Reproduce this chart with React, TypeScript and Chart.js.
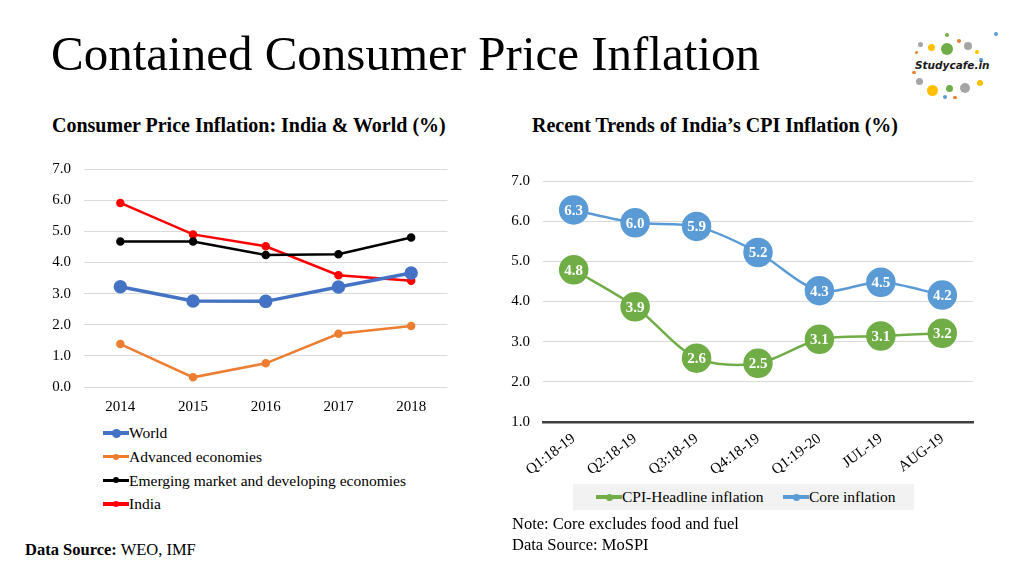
import React, { useEffect, useRef } from "react";
import { Chart, registerables } from "chart.js";

Chart.register(...registerables);

const years = ["2014", "2015", "2016", "2017", "2018"];
const worldValues = [3.22, 2.76, 2.75, 3.21, 3.66];
const advancedValues = [1.38, 0.31, 0.76, 1.71, 1.96];
const emergingValues = [4.67, 4.67, 4.24, 4.26, 4.8];
const indiaValues = [5.91, 4.9, 4.52, 3.59, 3.41];
const leftTicks = [0, 1, 2, 3, 4, 5, 6, 7];

const quarters = ["Q1:18-19", "Q2:18-19", "Q3:18-19", "Q4:18-19", "Q1:19-20", "JUL-19", "AUG-19"];
const headlineValues = [4.79, 3.87, 2.59, 2.46, 3.06, 3.14, 3.21];
const coreValues = [6.28, 5.96, 5.87, 5.22, 4.27, 4.48, 4.16];
const rightTicks = [1, 2, 3, 4, 5, 6, 7];

const SERIF = "'Liberation Serif', 'Times New Roman', serif";

const pointLabelPlugin = {
  id: "pointLabels",
  afterDatasetsDraw(chart: any) {
    const ctx = chart.ctx;
    ctx.save();
    ctx.fillStyle = "#ffffff";
    ctx.font = `bold 15px ${SERIF}`;
    ctx.textAlign = "center";
    ctx.textBaseline = "middle";
    chart.data.datasets.forEach((ds: any, i: number) => {
      const meta = chart.getDatasetMeta(i);
      meta.data.forEach((pt: any, j: number) => {
        ctx.fillText(Number(ds.data[j]).toFixed(1), pt.x, pt.y + 1);
      });
    });
    ctx.restore();
  },
};

function LeftChart() {
  const ref = useRef<HTMLCanvasElement>(null);
  useEffect(() => {
    const chart = new Chart(ref.current!, {
      type: "line",
      data: {
        labels: years,
        datasets: [
          { label: "World", data: worldValues, borderColor: "#4472C4", backgroundColor: "#4472C4", borderWidth: 3.5, pointRadius: 5, pointHoverRadius: 5 },
          { label: "Advanced economies", data: advancedValues, borderColor: "#ED7D31", backgroundColor: "#ED7D31", borderWidth: 2.5, pointRadius: 3, pointHoverRadius: 3 },
          { label: "Emerging market and developing economies", data: emergingValues, borderColor: "#000000", backgroundColor: "#000000", borderWidth: 2.5, pointRadius: 3, pointHoverRadius: 3 },
          { label: "India", data: indiaValues, borderColor: "#FF0000", backgroundColor: "#FF0000", borderWidth: 2.5, pointRadius: 3, pointHoverRadius: 3 },
        ],
      },
      options: {
        animation: false,
        responsive: false,
        layout: { padding: { top: 10, left: 0, right: 0, bottom: 0 } },
        plugins: { legend: { display: false }, tooltip: { enabled: false } },
        scales: {
          x: {
            offset: true,
            grid: { display: false, drawTicks: false },
            border: { display: false },
            ticks: { color: "#000", font: { family: SERIF, size: 15 }, padding: 11 },
            afterFit: (s: any) => { s.height = 30; },
          },
          y: {
            min: 0,
            max: 7,
            afterBuildTicks: (s: any) => { s.ticks = leftTicks.map((v) => ({ value: v })); },
            grid: { color: "#d9d9d9", drawTicks: false, lineWidth: 1 },
            border: { display: false },
            ticks: { color: "#000", font: { family: SERIF, size: 15 }, padding: 13, callback: (v: any) => Number(v).toFixed(1) },
            afterFit: (s: any) => { s.width = 54; },
          },
        },
      },
    });
    return () => chart.destroy();
  }, []);
  return <canvas ref={ref} width={426} height={270} style={{ position: "absolute", left: 30, top: 147, width: 426, height: 270 }} />;
}

function RightChart() {
  const ref = useRef<HTMLCanvasElement>(null);
  useEffect(() => {
    const chart = new Chart(ref.current!, {
      type: "line",
      data: {
        labels: quarters,
        datasets: [
          { label: "CPI-Headline inflation", data: headlineValues, borderColor: "#70AD47", backgroundColor: "#70AD47", borderWidth: 2.5, pointRadius: 13.5, pointHoverRadius: 13.5, tension: 0.3 },
          { label: "Core inflation", data: coreValues, borderColor: "#5B9BD5", backgroundColor: "#5B9BD5", borderWidth: 2.5, pointRadius: 13.5, pointHoverRadius: 13.5, tension: 0.3 },
        ],
      },
      options: {
        animation: false,
        responsive: false,
        layout: { padding: { top: 10, left: 0, right: 0, bottom: 0 } },
        plugins: { legend: { display: false }, tooltip: { enabled: false } },
        scales: {
          x: {
            offset: true,
            grid: { display: false, drawTicks: false },
            border: { display: true, color: "#404040", width: 2.5 },
            ticks: { color: "#000", font: { family: SERIF, size: 15 }, padding: 8, maxRotation: 37, minRotation: 37 },
            afterFit: (s: any) => { s.height = 66; },
          },
          y: {
            min: 1,
            max: 7,
            afterBuildTicks: (s: any) => { s.ticks = rightTicks.map((v) => ({ value: v })); },
            grid: { color: "#d9d9d9", drawTicks: false, lineWidth: 1 },
            border: { display: false },
            ticks: { color: "#000", font: { family: SERIF, size: 15 }, padding: 13, callback: (v: any) => Number(v).toFixed(1) },
            afterFit: (s: any) => { s.width = 53; },
          },
        },
      },
      plugins: [pointLabelPlugin],
    });
    return () => chart.destroy();
  }, []);
  return <canvas ref={ref} width={499} height={329} style={{ position: "absolute", left: 490, top: 159, width: 499, height: 329 }} />;
}

function LegendMark({ color, thick, r }: { color: string; thick: number; r: number }) {
  return (
    <span style={{ position: "relative", display: "inline-block", width: 26, height: 12, verticalAlign: "middle" }}>
      <span style={{ position: "absolute", left: 0, right: 0, top: 6 - thick / 2, height: thick, background: color }} />
      <span style={{ position: "absolute", left: 13 - r, top: 6 - r, width: r * 2, height: r * 2, borderRadius: "50%", background: color }} />
    </span>
  );
}

const dots = [
  { x: 995.7, y: 34.3, r: 2.2, c: "#5B9BD5" },
  { x: 946.7, y: 35, r: 2, c: "#70AD47" },
  { x: 959, y: 40.7, r: 2, c: "#ED7D31" },
  { x: 920, y: 44, r: 2.5, c: "#A5A5A5" },
  { x: 931, y: 47.7, r: 3.5, c: "#FFC000" },
  { x: 946.7, y: 49, r: 6, c: "#70AD47" },
  { x: 967.7, y: 45.7, r: 4, c: "#A5A5A5" },
  { x: 916.7, y: 52.3, r: 1.6, c: "#ED7D31" },
  { x: 977.3, y: 52, r: 2, c: "#FFC000" },
  { x: 981, y: 60, r: 1.6, c: "#5B9BD5" },
  { x: 914, y: 72.7, r: 1.6, c: "#ED7D31" },
  { x: 919.3, y: 81.7, r: 3.5, c: "#A5A5A5" },
  { x: 932.3, y: 90, r: 5.5, c: "#FFC000" },
  { x: 949.3, y: 88.3, r: 3.5, c: "#70AD47" },
  { x: 965, y: 88.3, r: 5, c: "#A5A5A5" },
  { x: 980, y: 82.7, r: 3, c: "#FFC000" },
  { x: 945, y: 96.7, r: 2, c: "#5B9BD5" },
  { x: 955, y: 97.3, r: 1.6, c: "#ED7D31" },
];

export default function App() {
  useEffect(() => {
    document.body.style.margin = "0";
  }, []);
  const txt: React.CSSProperties = { position: "absolute", fontFamily: SERIF, color: "#000", whiteSpace: "nowrap", lineHeight: 1 };
  const leftLegend = [
    { label: "World", color: "#4472C4", thick: 4, r: 4.5 },
    { label: "Advanced economies", color: "#ED7D31", thick: 3.5, r: 3 },
    { label: "Emerging market and developing economies", color: "#000000", thick: 3.5, r: 3 },
    { label: "India", color: "#FF0000", thick: 3.5, r: 3 },
  ];
  return (
    <div style={{ position: "absolute", left: 0, top: 0, width: 1024, height: 569, background: "#fff", overflow: "hidden" }}>
      <div style={{ ...txt, left: 51, top: 29, fontSize: 49 }}>Contained Consumer Price Inflation</div>
      <div style={{ ...txt, left: 52, top: 115, fontSize: 20, fontWeight: "bold" }}>Consumer Price Inflation: India &amp; World (%)</div>
      <div style={{ ...txt, left: 532, top: 115, fontSize: 20, fontWeight: "bold" }}>Recent Trends of India’s CPI Inflation (%)</div>

      {dots.map((d, i) => (
        <div key={i} style={{ position: "absolute", left: d.x - d.r, top: d.y - d.r, width: d.r * 2, height: d.r * 2, borderRadius: "50%", background: d.c }} />
      ))}
      <div style={{ position: "absolute", left: 915, top: 60, fontFamily: "'DejaVu Sans', sans-serif", fontSize: 10.5, fontWeight: "bold", fontStyle: "italic", color: "#1a1a1a", lineHeight: 1, whiteSpace: "nowrap" }}>Studycafe.in</div>

      <LeftChart />
      <RightChart />

      {leftLegend.map((l, i) => (
        <div key={l.label} style={{ ...txt, left: 103, top: 425 + i * 23.7, fontSize: 15.5, display: "flex", alignItems: "center", height: 16 }}>
          <LegendMark color={l.color} thick={l.thick} r={l.r} />
          <span>{l.label}</span>
        </div>
      ))}

      <div style={{ position: "absolute", left: 573, top: 484, width: 341, height: 26, background: "#f2f2f2" }} />
      <div style={{ ...txt, left: 596, top: 489, fontSize: 15.5, display: "flex", alignItems: "center", height: 16 }}>
        <LegendMark color="#70AD47" thick={3.5} r={3.5} />
        <span>CPI-Headline inflation</span>
      </div>
      <div style={{ ...txt, left: 783, top: 489, fontSize: 15.5, display: "flex", alignItems: "center", height: 16 }}>
        <LegendMark color="#5B9BD5" thick={3.5} r={3.5} />
        <span>Core inflation</span>
      </div>

      <div style={{ ...txt, left: 512, top: 516, fontSize: 16.5 }}>Note: Core excludes food and fuel</div>
      <div style={{ ...txt, left: 512, top: 537, fontSize: 16.5 }}>Data Source: MoSPI</div>
      <div style={{ ...txt, left: 25, top: 542, fontSize: 16.5 }}><b>Data Source:</b> WEO, IMF</div>
    </div>
  );
}
